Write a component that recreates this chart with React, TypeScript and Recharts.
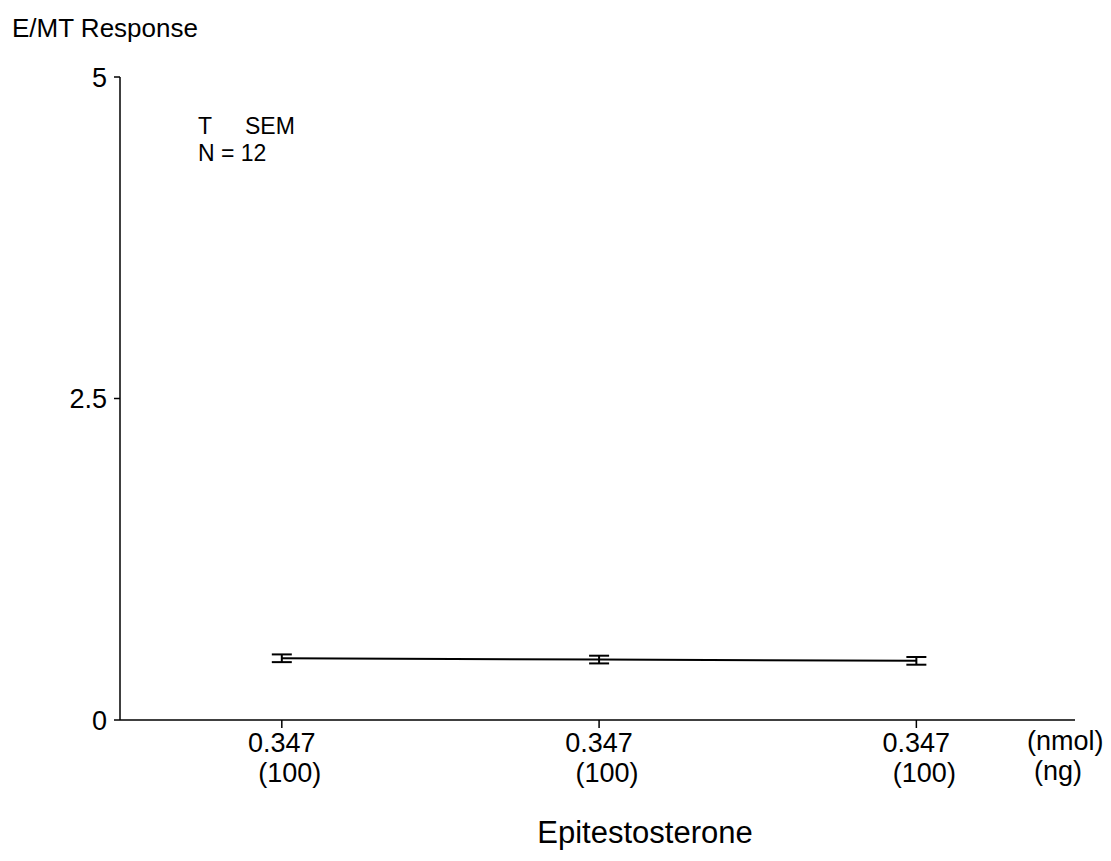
import { LineChart, Line, XAxis, YAxis, ErrorBar } from 'recharts';

// dose labels (nmol / ng) for the three groups
const doseNmol = ['0.347', '0.347', '0.347'];
const doseNg = ['(100)', '(100)', '(100)'];
const response = [0.48, 0.47, 0.46];
const sem = [0.03, 0.03, 0.03];
const yTicks = [0, 2.5, 5];

const data = response.map((v, i) => ({ x: i + 1, y: v, err: sem[i] }));

const FONT = '"Liberation Sans", Arial, Helvetica, sans-serif';

function DoseTick(props: any) {
  const { x, y, payload } = props;
  const i = payload.value - 1;
  return (
    <g>
      <text x={x} y={y + 22} textAnchor="middle" fontSize={27} fontFamily={FONT} fill="#000">
        {doseNmol[i]}
      </text>
      <text x={x + 8} y={y + 52} textAnchor="middle" fontSize={27} fontFamily={FONT} fill="#000">
        {doseNg[i]}
      </text>
    </g>
  );
}

export default function App() {
  return (
    <div style={{ position: 'absolute', left: 0, top: 0, width: 1111, height: 861, background: '#fff', fontFamily: FONT, color: '#000' }}>
      <LineChart width={1111} height={861} data={data} margin={{ top: 77, right: 36, bottom: 61, left: 0 }}>
        <XAxis
          type="number"
          dataKey="x"
          domain={[0.49, 3.5]}
          ticks={[1, 2, 3]}
          height={80}
          tick={<DoseTick />}
          tickSize={8}
          tickMargin={2}
          stroke="#000"
          strokeWidth={1.5}
          allowDataOverflow
        />
        <YAxis
          type="number"
          domain={[0, 5]}
          ticks={yTicks}
          width={120}
          tickSize={6}
          tickMargin={7}
          stroke="#000"
          strokeWidth={1.5}
          tick={{ fontSize: 27, fill: '#000', fontFamily: FONT }}
          tickFormatter={(v: number) => String(v)}
        />
        <Line
          type="linear"
          dataKey="y"
          stroke="#000"
          strokeWidth={2}
          dot={false}
          isAnimationActive={false}
        >
          <ErrorBar dataKey="err" direction="y" width={10} stroke="#000" strokeWidth={2} />
        </Line>
      </LineChart>

      <div style={{ position: 'absolute', left: 12, top: 13, fontSize: 26 }}>E/MT Response</div>
      <div style={{ position: 'absolute', left: 198, top: 114, fontSize: 23, lineHeight: '24px' }}>T</div>
      <div style={{ position: 'absolute', left: 245, top: 114, fontSize: 23, lineHeight: '24px' }}>SEM</div>
      <div style={{ position: 'absolute', left: 198, top: 141, fontSize: 23, lineHeight: '24px' }}>N = 12</div>
      <div style={{ position: 'absolute', left: 1027, top: 726, fontSize: 27 }}>(nmol)</div>
      <div style={{ position: 'absolute', left: 1034, top: 756, fontSize: 27 }}>(ng)</div>
      <div style={{ position: 'absolute', left: 445, width: 400, top: 815, fontSize: 31, textAlign: 'center' }}>
        Epitestosterone
      </div>
    </div>
  );
}
